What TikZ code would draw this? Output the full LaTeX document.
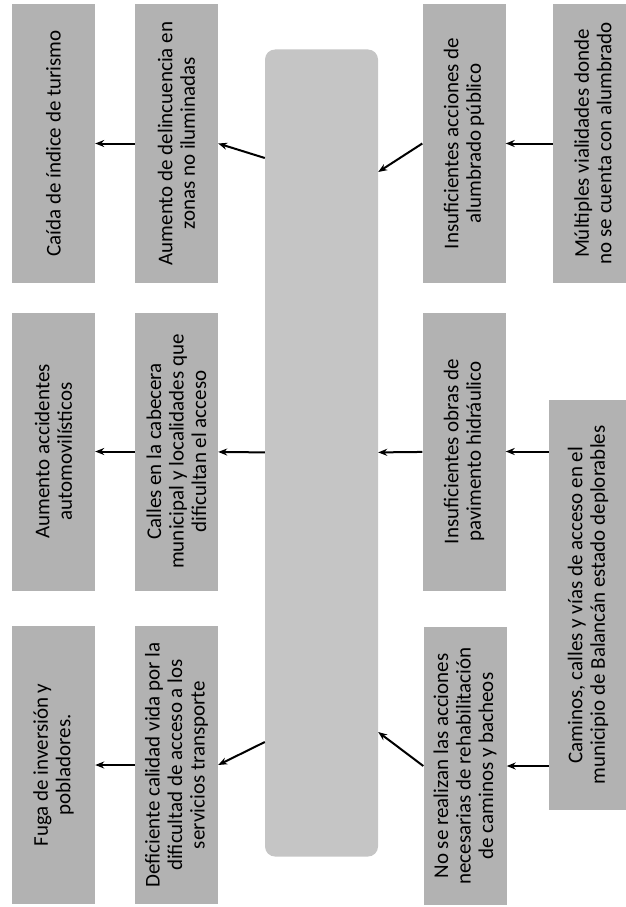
\documentclass[tikz,border=0pt]{standalone}
\usepackage{fontspec}
\setmainfont{Carlito}
\usepackage{tikz}
\usetikzlibrary{arrows.meta}
\definecolor{scan}{RGB}{178,178,178}

\begin{document}
\begin{tikzpicture}[x=1pt, y=-1pt, >={Stealth[length=9pt, width=7pt]},
    box/.style={rectangle, fill=scan, rotate=90, inner sep=2pt, align=center, font=\fontsize{21}{22.5}\selectfont, minimum width=278pt, minimum height=83pt},
    core/.style={rectangle, fill=scan!75, rounded corners=10pt, minimum width=113pt, minimum height=807pt},
    arrow/.style={->, line width=2pt, draw=black}]

\useasboundingbox (0,0) rectangle (625,907);

% efectos
\node [box] (turismo) at (53.5,143.5) {Caída de índice de turismo};
\node [box] (accid) at (53.5,451.5) {Aumento accidentes\\automovilísticos};
\node [box] (fuga) at (53.5,765) {Fuga de inversión y\\pobladores.};

\node [box] (delinc) at (176.5,143.5) {Aumento de delincuencia en\\zonas no iluminadas};
\node [box] (calles) at (176.5,451.5) {Calles en la cabecera\\municipal y localidades que\\dificultan el acceso};
\node [box] (calidad) at (176.5,765) {Deficiente calidad vida por la\\dificultad de acceso a los\\servicios transporte};

% problema central
\node [core] (centre) at (321.5,453) {};

% causas
\node [box] (alumb) at (464,143.5) {Insuficientes acciones de\\alumbrado público};
\node [box] (pavim) at (464,451.5) {Insuficientes obras de\\pavimento hidráulico};
\node [box] (rehab) at (465,766) {No se realizan las acciones\\necesarias de rehabilitación\\de caminos y bacheos};

\node [box, minimum height=80pt] (vial) at (593,143.5) {Múltiples vialidades donde\\no se cuenta con alumbrado};
\node [box, minimum width=410pt, minimum height=78pt] (caminos) at (588,605) {Caminos, calles y vías de acceso en el\\municipio de Balancán estado deplorables};

\coordinate (c1l) at (centre.west |- 0,158);
\coordinate (c1r) at (centre.east |- 0,172);
\coordinate (c3l) at (centre.west |- 0,742);
\coordinate (c3r) at (centre.east |- 0,732);

\draw [arrow] (delinc) -- (turismo);
\draw [arrow] (calles) -- (accid);
\draw [arrow] (calidad) -- (fuga);

\draw [arrow] (c1l) -- (delinc.south);
\draw [arrow] (centre) -- (calles);
\draw [arrow] (c3l) -- (calidad.south);

\draw [arrow] (alumb.north) -- (c1r);
\draw [arrow] (pavim) -- (centre);
\draw [arrow] (rehab.north) -- (c3r);

\draw [arrow] (vial) -- (alumb);
\draw [arrow] (caminos.north |- pavim) -- (pavim);
\draw [arrow] (caminos.north |- rehab) -- (rehab);

\end{tikzpicture}
\end{document}
